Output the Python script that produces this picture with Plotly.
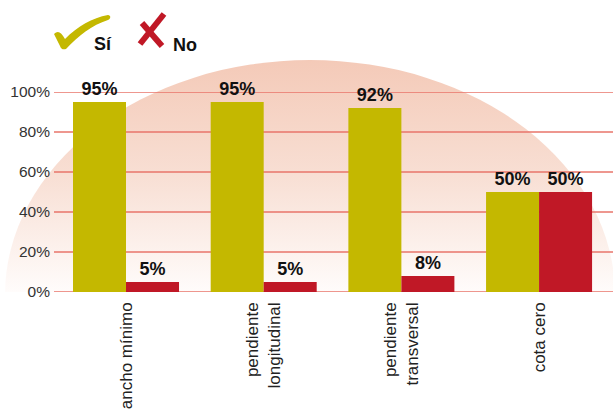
import base64
import plotly.graph_objects as go

categories = ["ancho mínimo", "pendiente<br>longitudinal", "pendiente<br>transversal", "cota cero"]
si_values = [95, 95, 92, 50]
no_values = [5, 5, 8, 50]
y_ticks = [0, 20, 40, 60, 80, 100]
y_tick_labels = ["0%", "20%", "40%", "60%", "80%", "100%"]

W, H = 613, 413
FONT = "Liberation Sans, Arial, Helvetica, sans-serif"
SI_COLOR = "#c4b800"
NO_COLOR = "#c01826"
GRID_COLOR = "#e8746a"

def px(x, y):
    return x / W, 1 - y / H

# background ellipse with vertical gradient (svg data uri)
svg = (
    "<svg xmlns='http://www.w3.org/2000/svg' width='613' height='413' viewBox='0 0 613 413' preserveAspectRatio='none'>"
    "<defs><linearGradient id='g' x1='0' y1='60' x2='0' y2='292' gradientUnits='userSpaceOnUse'>"
    "<stop offset='0' stop-color='#f4cab8'/><stop offset='0.5' stop-color='#f8dfd4'/>"
    "<stop offset='1' stop-color='#fffcfb'/></linearGradient>"
    "<clipPath id='c'><rect x='0' y='0' width='613' height='292'/></clipPath></defs>"
    "<ellipse cx='310' cy='295' rx='305' ry='235' fill='url(#g)' clip-path='url(#c)'/></svg>"
)
svg_uri = "data:image/svg+xml;base64," + base64.b64encode(svg.encode()).decode()

fig = go.Figure()
fig.add_trace(go.Bar(
    x=categories, y=si_values, name="Sí", marker=dict(color=SI_COLOR, line=dict(width=0)),
    text=[f"<b>{v}%</b>" for v in si_values], textposition="outside", cliponaxis=False,
    textfont=dict(family=FONT, size=18, color="#111111"),
))
fig.add_trace(go.Bar(
    x=categories, y=no_values, name="No", marker=dict(color=NO_COLOR, line=dict(width=0)),
    text=[f"<b>{v}%</b>" for v in no_values], textposition="outside", cliponaxis=False,
    textfont=dict(family=FONT, size=18, color="#111111"),
))

def P(x, y):
    a, b = px(x, y)
    return f"{a:.5f},{b:.5f}"

check = (f"M {P(54,34)} C {P(58,30)} {P(61,32)} {P(65,39)} "
         f"C {P(78,26)} {P(92,18)} {P(108,15)} "
         f"C {P(111,15)} {P(111,19)} {P(108,20)} "
         f"C {P(92,25)} {P(78,36)} {P(66,49)} "
         f"C {P(63,50)} {P(61,49)} {P(60,46)} "
         f"C {P(58,42)} {P(56,38)} {P(54,34)} Z")

shapes = [
    dict(type="path", xref="paper", yref="paper", path=check,
         fillcolor=SI_COLOR, line=dict(width=0)),
]
for (x0, y0, x1, y1) in [(142, 23, 162, 46), (164, 14, 140, 44)]:
    a0, b0 = px(x0, y0)
    a1, b1 = px(x1, y1)
    shapes.append(dict(type="line", xref="paper", yref="paper", x0=a0, y0=b0, x1=a1, y1=b1,
                       line=dict(color=NO_COLOR, width=6)))
for t in y_ticks:
    shapes.append(dict(type="line", xref="paper", yref="y", x0=54 / W, x1=1, y0=t, y1=t,
                       layer="between", line=dict(color=GRID_COLOR, width=1.6)))

annotations = []
for txt, (x, y) in [("Sí", (103, 44)), ("No", (185, 45))]:
    a, b = px(x, y)
    annotations.append(dict(text=f"<b>{txt}</b>", x=a, y=b, xref="paper", yref="paper",
                            showarrow=False, xanchor="center", yanchor="middle",
                            font=dict(family=FONT, size=18, color="#111111")))

fig.update_layout(
    width=W, height=H,
    margin=dict(l=0, r=0, t=0, b=0, autoexpand=False),
    paper_bgcolor="white",
    plot_bgcolor="rgba(0,0,0,0)",
    barmode="group", bargap=0.23, bargroupgap=0,
    showlegend=False,
    font=dict(family=FONT, color="#333333"),
    images=[dict(source=svg_uri, xref="paper", yref="paper", x=0, y=1, sizex=1, sizey=1,
                 sizing="stretch", xanchor="left", yanchor="top", layer="below")],
    shapes=shapes,
    annotations=annotations,
    xaxis=dict(domain=[54 / W, 1], range=[-0.523, 3.537], showgrid=False, zeroline=False,
               showline=False, ticks="", tickangle=-90, automargin=False,
               tickfont=dict(family=FONT, size=17, color="#222222"), ticklabelstandoff=6),
    yaxis=dict(domain=[1 - 292 / H, 1 - 92 / H], range=[0, 100], tickmode="array",
               tickvals=y_ticks, ticktext=y_tick_labels, showgrid=False, automargin=False,
               zeroline=False, showline=False, ticks="", ticklabelstandoff=3,
               tickfont=dict(family=FONT, size=15.5, color="#333333")),
)

fig.write_html("out.html")
